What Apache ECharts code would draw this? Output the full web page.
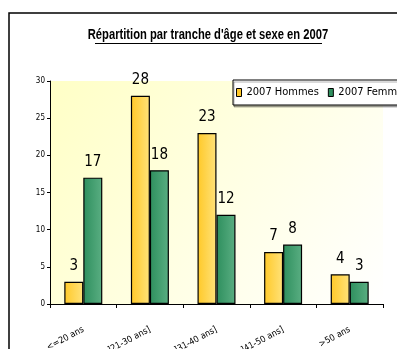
<!DOCTYPE html>
<html>
<head>
<meta charset="utf-8">
<script src="https://cdn.jsdelivr.net/npm/echarts@6/dist/echarts.min.js"></script>
<style>
  html, body { margin: 0; padding: 0; background: #fff; overflow: hidden; }
  #chart { width: 397px; height: 349px; }
</style>
</head>
<body>
<div id="chart"></div>
<script>
// Age brackets and head counts per sex, 2007
const categories = ['<=20 ans', ']21-30 ans]', ']31-40 ans]', ']41-50 ans]', '>50 ans'];
const hommes = [3, 28, 23, 7, 4];
const femmes = [17, 18, 12, 8, 3];
const yTicks = [0, 5, 10, 15, 20, 25, 30];
const titleText = 'Répartition par tranche d\'âge et sexe en 2007';

const NARROW = '"DejaVu Sans Condensed", "Liberation Sans", sans-serif';

const chart = echarts.init(document.getElementById('chart'), null, { renderer: 'canvas' });

const yellowFill = new echarts.graphic.LinearGradient(0, 0, 1, 0, [
  { offset: 0, color: '#FFC928' },
  { offset: 1, color: '#FFE27A' }
]);
const greenFill = new echarts.graphic.LinearGradient(0, 0, 1, 0, [
  { offset: 0, color: '#2E8F5E' },
  { offset: 1, color: '#5AAE82' }
]);

chart.setOption({
  animation: false,
  graphic: [
    // outer chart frame
    {
      type: 'rect',
      shape: { x: 9, y: 13, width: 420, height: 360 },
      style: { fill: 'none', stroke: '#000', lineWidth: 1.5 },
      z: 0
    },
    // title, set in a condensed face
    {
      type: 'text',
      x: 208,
      y: 35,
      scaleX: 0.8,
      style: {
        text: titleText,
        font: 'bold 14px "Liberation Sans", Arial, sans-serif',
        fill: '#000',
        align: 'center',
        verticalAlign: 'middle'
      },
      z: 10
    },
    // title underline
    {
      type: 'line',
      shape: { x1: 95, y1: 43.5, x2: 322, y2: 43.5 },
      style: { stroke: '#000', lineWidth: 1 },
      z: 10
    }
  ],
  legend: {
    left: 233,
    top: 80,
    width: 320,
    orient: 'horizontal',
    itemWidth: 5,
    itemHeight: 8,
    itemGap: 9,
    padding: [7, 8, 7, 3],
    backgroundColor: '#fff',
    borderColor: '#000',
    borderWidth: 1,
    shadowColor: 'rgba(0,0,0,0.3)',
    shadowOffsetX: 1,
    shadowOffsetY: 2,
    shadowBlur: 0,
    textStyle: { fontFamily: NARROW, fontSize: 11, color: '#000' },
    data: [
      { name: '2007 Hommes', icon: 'rect', itemStyle: { color: '#FFC928', borderColor: '#000', borderWidth: 1 } },
      { name: '2007 Femmes', icon: 'rect', itemStyle: { color: '#2E8F5E', borderColor: '#000', borderWidth: 1 } }
    ]
  },
  grid: {
    left: 50,
    top: 81,
    right: 14,
    bottom: 45,
    outerBoundsMode: 'none',
    containLabel: false,
    show: true,
    borderWidth: 0,
    backgroundColor: new echarts.graphic.LinearGradient(0, 0, 1, 1, [
      { offset: 0, color: '#FFFFC6' },
      { offset: 1, color: '#FFFFFF' }
    ])
  },
  xAxis: {
    type: 'category',
    data: categories,
    axisLine: { lineStyle: { color: '#000', width: 1 } },
    axisTick: { show: true, length: 4, lineStyle: { color: '#000' } },
    axisLabel: {
      rotate: 28,
      margin: 25,
      fontFamily: NARROW,
      fontSize: 9,
      color: '#000'
    },
    splitLine: { show: false }
  },
  yAxis: {
    type: 'value',
    min: 0,
    max: 30,
    interval: 5,
    axisLine: { show: true, lineStyle: { color: '#000', width: 1 } },
    axisTick: { show: true, length: 3, lineStyle: { color: '#000' } },
    axisLabel: {
      fontFamily: NARROW,
      fontSize: 8,
      color: '#000',
      margin: 5,
      formatter: v => yTicks.includes(v) ? String(v) : ''
    },
    splitLine: { show: false }
  },
  series: [
    {
      name: '2007 Hommes',
      type: 'bar',
      data: hommes,
      barWidth: 19,
      barGap: '0%',
      itemStyle: { color: yellowFill, borderColor: '#000', borderWidth: 1.2 },
      label: {
        show: true,
        position: 'top',
        distance: 8,
        fontFamily: NARROW,
        fontSize: 15,
        color: '#000'
      }
    },
    {
      name: '2007 Femmes',
      type: 'bar',
      data: femmes,
      barWidth: 19,
      barGap: '0%',
      itemStyle: { color: greenFill, borderColor: '#000', borderWidth: 1.2 },
      label: {
        show: true,
        position: 'top',
        distance: 8,
        fontFamily: NARROW,
        fontSize: 15,
        color: '#000'
      }
    }
  ]
});
</script>
</body>
</html>
